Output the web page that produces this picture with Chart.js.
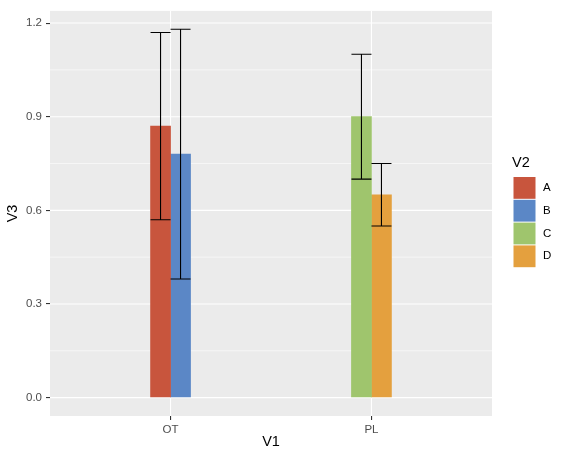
<!DOCTYPE html>
<html>
<head>
<meta charset="utf-8">
<script src="https://cdn.jsdelivr.net/npm/chart.js@4/dist/chart.umd.min.js"></script>
<style>
  body { margin: 0; background: #ffffff; }
  #wrap { width: 568px; height: 460px; }
</style>
</head>
<body>
<div id="wrap"><canvas id="myChart" width="568" height="460"></canvas></div>
<script>
// data
var categories = ['OT', 'PL'];
var catPos = [1, 2];
var groups = ['A', 'B', 'C', 'D'];
var colors = ['#C8553D', '#5B87C6', '#9FC56D', '#E4A03E'];

var valA = [0.87, null];
var valB = [0.78, null];
var valC = [null, 0.90];
var valD = [null, 0.65];

var lowA = [0.57, null];
var lowB = [0.38, null];
var lowC = [null, 0.70];
var lowD = [null, 0.55];

var highA = [1.17, null];
var highB = [1.18, null];
var highC = [null, 1.10];
var highD = [null, 0.75];

var yTicks = [0, 0.3, 0.6, 0.9, 1.2];
var yMinor = [0.15, 0.45, 0.75, 1.05];

var values = [valA, valB, valC, valD];
var lows = [lowA, lowB, lowC, lowD];
var highs = [highA, highB, highC, highD];

function points(vals) {
    var out = [];
    for (var i = 0; i < vals.length; i++) {
        out.push({x: catPos[i], y: vals[i]});
    }
    return out;
}

var datasets = [];
for (var k = 0; k < groups.length; k++) {
    datasets.push({
        label: groups[k],
        data: points(values[k]),
        backgroundColor: colors[k],
        borderWidth: 0,
        barThickness: 20,
        skipNull: true
    });
}

var FONT = '"Liberation Sans", Arial, sans-serif';

// grey panel + white grid lines
var panelPlugin = {
    id: 'panel',
    beforeDatasetsDraw: function(chart) {
        var ctx = chart.ctx;
        var a = chart.chartArea;
        var ys = chart.scales.y, xs = chart.scales.x;
        ctx.save();
        ctx.fillStyle = '#EBEBEB';
        ctx.fillRect(a.left, a.top, a.right - a.left, a.bottom - a.top);
        ctx.strokeStyle = '#ffffff';
        ctx.lineWidth = 0.55;
        yMinor.forEach(function(v) {
            var p = ys.getPixelForValue(v);
            ctx.beginPath(); ctx.moveTo(a.left, p); ctx.lineTo(a.right, p); ctx.stroke();
        });
        ctx.lineWidth = 1.1;
        yTicks.forEach(function(v) {
            var p = ys.getPixelForValue(v);
            ctx.beginPath(); ctx.moveTo(a.left, p); ctx.lineTo(a.right, p); ctx.stroke();
        });
        catPos.forEach(function(v) {
            var p = xs.getPixelForValue(v);
            ctx.beginPath(); ctx.moveTo(p, a.top); ctx.lineTo(p, a.bottom); ctx.stroke();
        });
        ctx.restore();
    }
};

// error bars on top of each bar
var errorPlugin = {
    id: 'errbars',
    afterDatasetsDraw: function(chart) {
        var ctx = chart.ctx;
        var ys = chart.scales.y;
        ctx.save();
        ctx.strokeStyle = '#000000';
        ctx.lineWidth = 1.1;
        for (var k = 0; k < groups.length; k++) {
            var meta = chart.getDatasetMeta(k);
            for (var j = 0; j < values[k].length; j++) {
                if (values[k][j] === null) continue;
                var bar = meta.data[j];
                var half = bar.width / 2;
                var yl = ys.getPixelForValue(lows[k][j]);
                var yh = ys.getPixelForValue(highs[k][j]);
                ctx.beginPath();
                ctx.moveTo(bar.x, yl); ctx.lineTo(bar.x, yh);
                ctx.moveTo(bar.x - half, yl); ctx.lineTo(bar.x + half, yl);
                ctx.moveTo(bar.x - half, yh); ctx.lineTo(bar.x + half, yh);
                ctx.stroke();
            }
        }
        ctx.restore();
    }
};

// ggplot-like legend at the right
var legendPlugin = {
    id: 'sideLegend',
    afterDraw: function(chart) {
        var ctx = chart.ctx;
        ctx.save();
        ctx.fillStyle = '#000000';
        ctx.font = '14.5px ' + FONT;
        ctx.textAlign = 'left';
        ctx.textBaseline = 'middle';
        ctx.fillText('V2', 512, 163);
        ctx.font = '11.5px ' + FONT;
        for (var k = 0; k < groups.length; k++) {
            var top = 176.5 + k * 22.8;
            ctx.fillStyle = colors[k];
            ctx.fillRect(513.5, top + 0.5, 22, 21.8);
            ctx.fillStyle = '#000000';
            ctx.fillText(groups[k], 543, top + 11.4);
        }
        ctx.restore();
    }
};

var ctx = document.getElementById('myChart').getContext('2d');
var myChart = new Chart(ctx, {
    type: 'bar',
    data: { datasets: datasets },
    options: {
        responsive: false,
        animation: false,
        devicePixelRatio: 1,
        layout: { padding: { left: 0, top: 7, right: 76, bottom: 0 } },
        plugins: {
            legend: { display: false },
            tooltip: { enabled: false }
        },
        scales: {
            x: {
                type: 'linear',
                min: 0.4,
                max: 2.6,
                offset: false,
                afterBuildTicks: function(scale) {
                    scale.ticks = catPos.map(function(v) { return {value: v}; });
                },
                afterFit: function(scale) { scale.height = 44; },
                ticks: {
                    color: '#4D4D4D',
                    font: { family: FONT, size: 11.5 },
                    padding: 3,
                    maxRotation: 0,
                    callback: function(v) { return categories[catPos.indexOf(v)]; }
                },
                grid: {
                    offset: false,
                    drawOnChartArea: false,
                    tickLength: 4,
                    tickColor: '#333333',
                    lineWidth: 1.1
                },
                border: { display: false },
                title: {
                    display: true,
                    text: 'V1',
                    color: '#000000',
                    font: { family: FONT, size: 14.5 },
                    padding: { top: 0, bottom: 9 }
                }
            },
            y: {
                min: -0.059,
                max: 1.239,
                afterBuildTicks: function(scale) {
                    scale.ticks = yTicks.map(function(v) { return {value: v}; });
                },
                afterFit: function(scale) { scale.width = 50; },
                ticks: {
                    color: '#4D4D4D',
                    font: { family: FONT, size: 11.5 },
                    padding: 4,
                    callback: function(v) { return v.toFixed(1); }
                },
                grid: {
                    drawOnChartArea: false,
                    tickLength: 4,
                    tickColor: '#333333',
                    lineWidth: 1.1
                },
                border: { display: false },
                title: {
                    display: true,
                    text: 'V3',
                    color: '#000000',
                    font: { family: FONT, size: 14.5 },
                    padding: { top: 4, bottom: 0 }
                }
            }
        }
    },
    plugins: [panelPlugin, errorPlugin, legendPlugin]
});
</script>
</body>
</html>
